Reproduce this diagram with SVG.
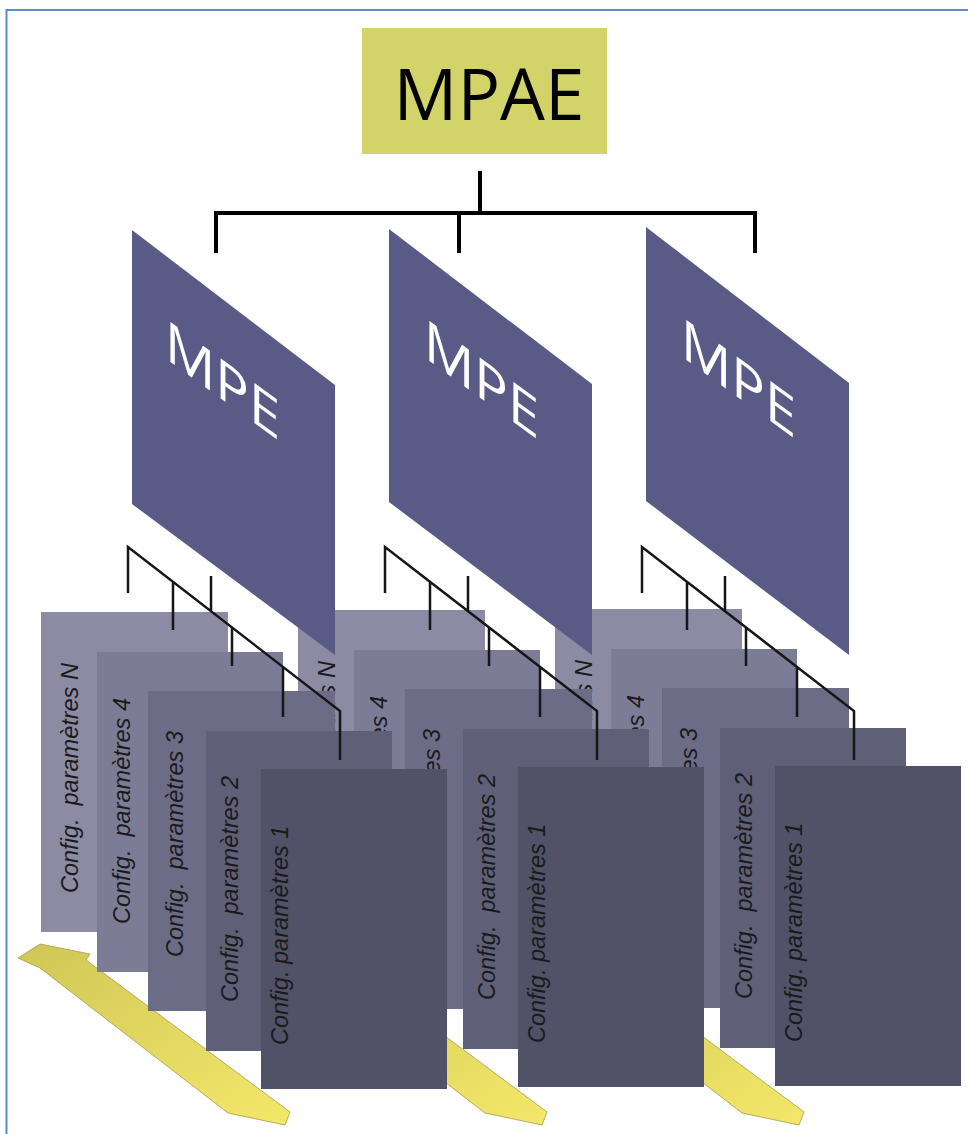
<svg xmlns="http://www.w3.org/2000/svg" width="968" height="1134" viewBox="0 0 968 1134">
<defs>
<linearGradient id="yel" x1="0" y1="0" x2="1" y2="1">
<stop offset="0" stop-color="#cfc656"/>
<stop offset="1" stop-color="#f4e86a"/>
</linearGradient>
<style>
.frame{fill:none;stroke:#5b8bc9;stroke-width:2}
.arrow{fill:url(#yel);stroke:#a39d48;stroke-width:0.8}
.cN{fill:#8c8ba3}.c4{fill:#7d7c96}.c3{fill:#6d6c87}.c2{fill:#5f5f78}.c1{fill:#515168}
.cfg{font-family:"Liberation Sans",Arial,sans-serif;font-style:italic;font-size:23.5px;fill:#1a1a1a;white-space:pre}
.mpe{fill:#5a5a87}
.mpet{font-family:"Open Sans","Noto Sans",sans-serif;font-weight:400;font-size:56px;fill:#ffffff}
.mpae{fill:#d2d46a}
.mpaet{font-family:"Open Sans","Noto Sans",sans-serif;font-size:71px;fill:#000000;text-anchor:middle}
.tree{fill:none;stroke:#000000;stroke-width:4}
.comb{fill:none;stroke:#161616;stroke-width:2.5}
</style>
</defs>
<rect x="0" y="0" width="968" height="1134" fill="#ffffff"/>
<path class="frame" d="M968,10 H6.5 V1134"/>

<g id="arrows">
<polygon class="arrow" points="18,958 40,944 90,954 86,960 290,1112 285,1125 228,1113 40,968"/>
<polygon class="arrow" points="275,958 297,944 347,954 343,960 547,1112 542,1125 485,1113 297,968"/>
<polygon class="arrow" points="532,958 554,944 604,954 600,960 804,1112 799,1125 742,1113 554,968"/>
</g>

<g id="group3" transform="translate(514,-3)">
<g id="g3-cN"><rect class="cN" x="41" y="612" width="187" height="320"/><text class="cfg" transform="translate(78,893) rotate(-90)">Config.  paramètres N</text></g>
<g id="g3-c4"><rect class="c4" x="97" y="652" width="186" height="320"/><text class="cfg" transform="translate(130,924) rotate(-90)">Config.  paramètres 4</text></g>
<g id="g3-c3"><rect class="c3" x="148" y="691" width="187" height="320"/><text class="cfg" transform="translate(183,957) rotate(-90)">Config.  paramètres 3</text></g>
<g id="g3-c2"><rect class="c2" x="206" y="731" width="186" height="320"/><text class="cfg" transform="translate(238,1002) rotate(-90)">Config.  paramètres 2</text></g>
<g id="g3-c1"><rect class="c1" x="261" y="769" width="186" height="320"/><text class="cfg" transform="translate(288,1045) rotate(-90)">Config. paramètres 1</text></g>
</g>

<g id="group2" transform="translate(257,-2)">
<g id="g2-cN"><rect class="cN" x="41" y="612" width="187" height="320"/><text class="cfg" transform="translate(78,893) rotate(-90)">Config.  paramètres N</text></g>
<g id="g2-c4"><rect class="c4" x="97" y="652" width="186" height="320"/><text class="cfg" transform="translate(130,924) rotate(-90)">Config.  paramètres 4</text></g>
<g id="g2-c3"><rect class="c3" x="148" y="691" width="187" height="320"/><text class="cfg" transform="translate(183,957) rotate(-90)">Config.  paramètres 3</text></g>
<g id="g2-c2"><rect class="c2" x="206" y="731" width="186" height="320"/><text class="cfg" transform="translate(238,1002) rotate(-90)">Config.  paramètres 2</text></g>
<g id="g2-c1"><rect class="c1" x="261" y="769" width="186" height="320"/><text class="cfg" transform="translate(288,1045) rotate(-90)">Config. paramètres 1</text></g>
</g>

<g id="group1">
<g id="g1-cN"><rect class="cN" x="41" y="612" width="187" height="320"/><text class="cfg" transform="translate(78,893) rotate(-90)">Config.  paramètres N</text></g>
<g id="g1-c4"><rect class="c4" x="97" y="652" width="186" height="320"/><text class="cfg" transform="translate(130,924) rotate(-90)">Config.  paramètres 4</text></g>
<g id="g1-c3"><rect class="c3" x="148" y="691" width="187" height="320"/><text class="cfg" transform="translate(183,957) rotate(-90)">Config.  paramètres 3</text></g>
<g id="g1-c2"><rect class="c2" x="206" y="731" width="186" height="320"/><text class="cfg" transform="translate(238,1002) rotate(-90)">Config.  paramètres 2</text></g>
<g id="g1-c1"><rect class="c1" x="261" y="769" width="186" height="320"/><text class="cfg" transform="translate(288,1045) rotate(-90)">Config. paramètres 1</text></g>
</g>

<g id="mpe1"><polygon class="mpe" points="132,230 335,385 335,655 132,504"/><text class="mpet" transform="translate(165,358) skewY(36)">MPE</text></g>
<g id="mpe2"><polygon class="mpe" points="389,229 592,384 592,655 389,502"/><text class="mpet" transform="translate(424,357) skewY(36)">MPE</text></g>
<g id="mpe3"><polygon class="mpe" points="646,227 849,383 849,655 646,501"/><text class="mpet" transform="translate(681,356) skewY(36)">MPE</text></g>

<g id="mpae"><rect class="mpae" x="362" y="28" width="245" height="126"/><text class="mpaet" x="489" y="120">MPAE</text></g>

<g id="connectors">
<path class="tree" d="M480,171 V213 M216,253 V213 H755 V253 M459,213 V253"/>
<path class="comb" d="M128,593 V547 L340,711 V760 M173,582 V630 M232,627 V666 M283,667 V717 M211,576 V611"/>
<path class="comb" d="M385,593 V547 L597,711 V760 M430,582 V630 M489,627 V666 M540,667 V717 M468,576 V611"/>
<path class="comb" d="M642,593 V547 L854,711 V760 M687,582 V630 M746,627 V666 M797,667 V717 M725,576 V611"/>
</g>
</svg>
